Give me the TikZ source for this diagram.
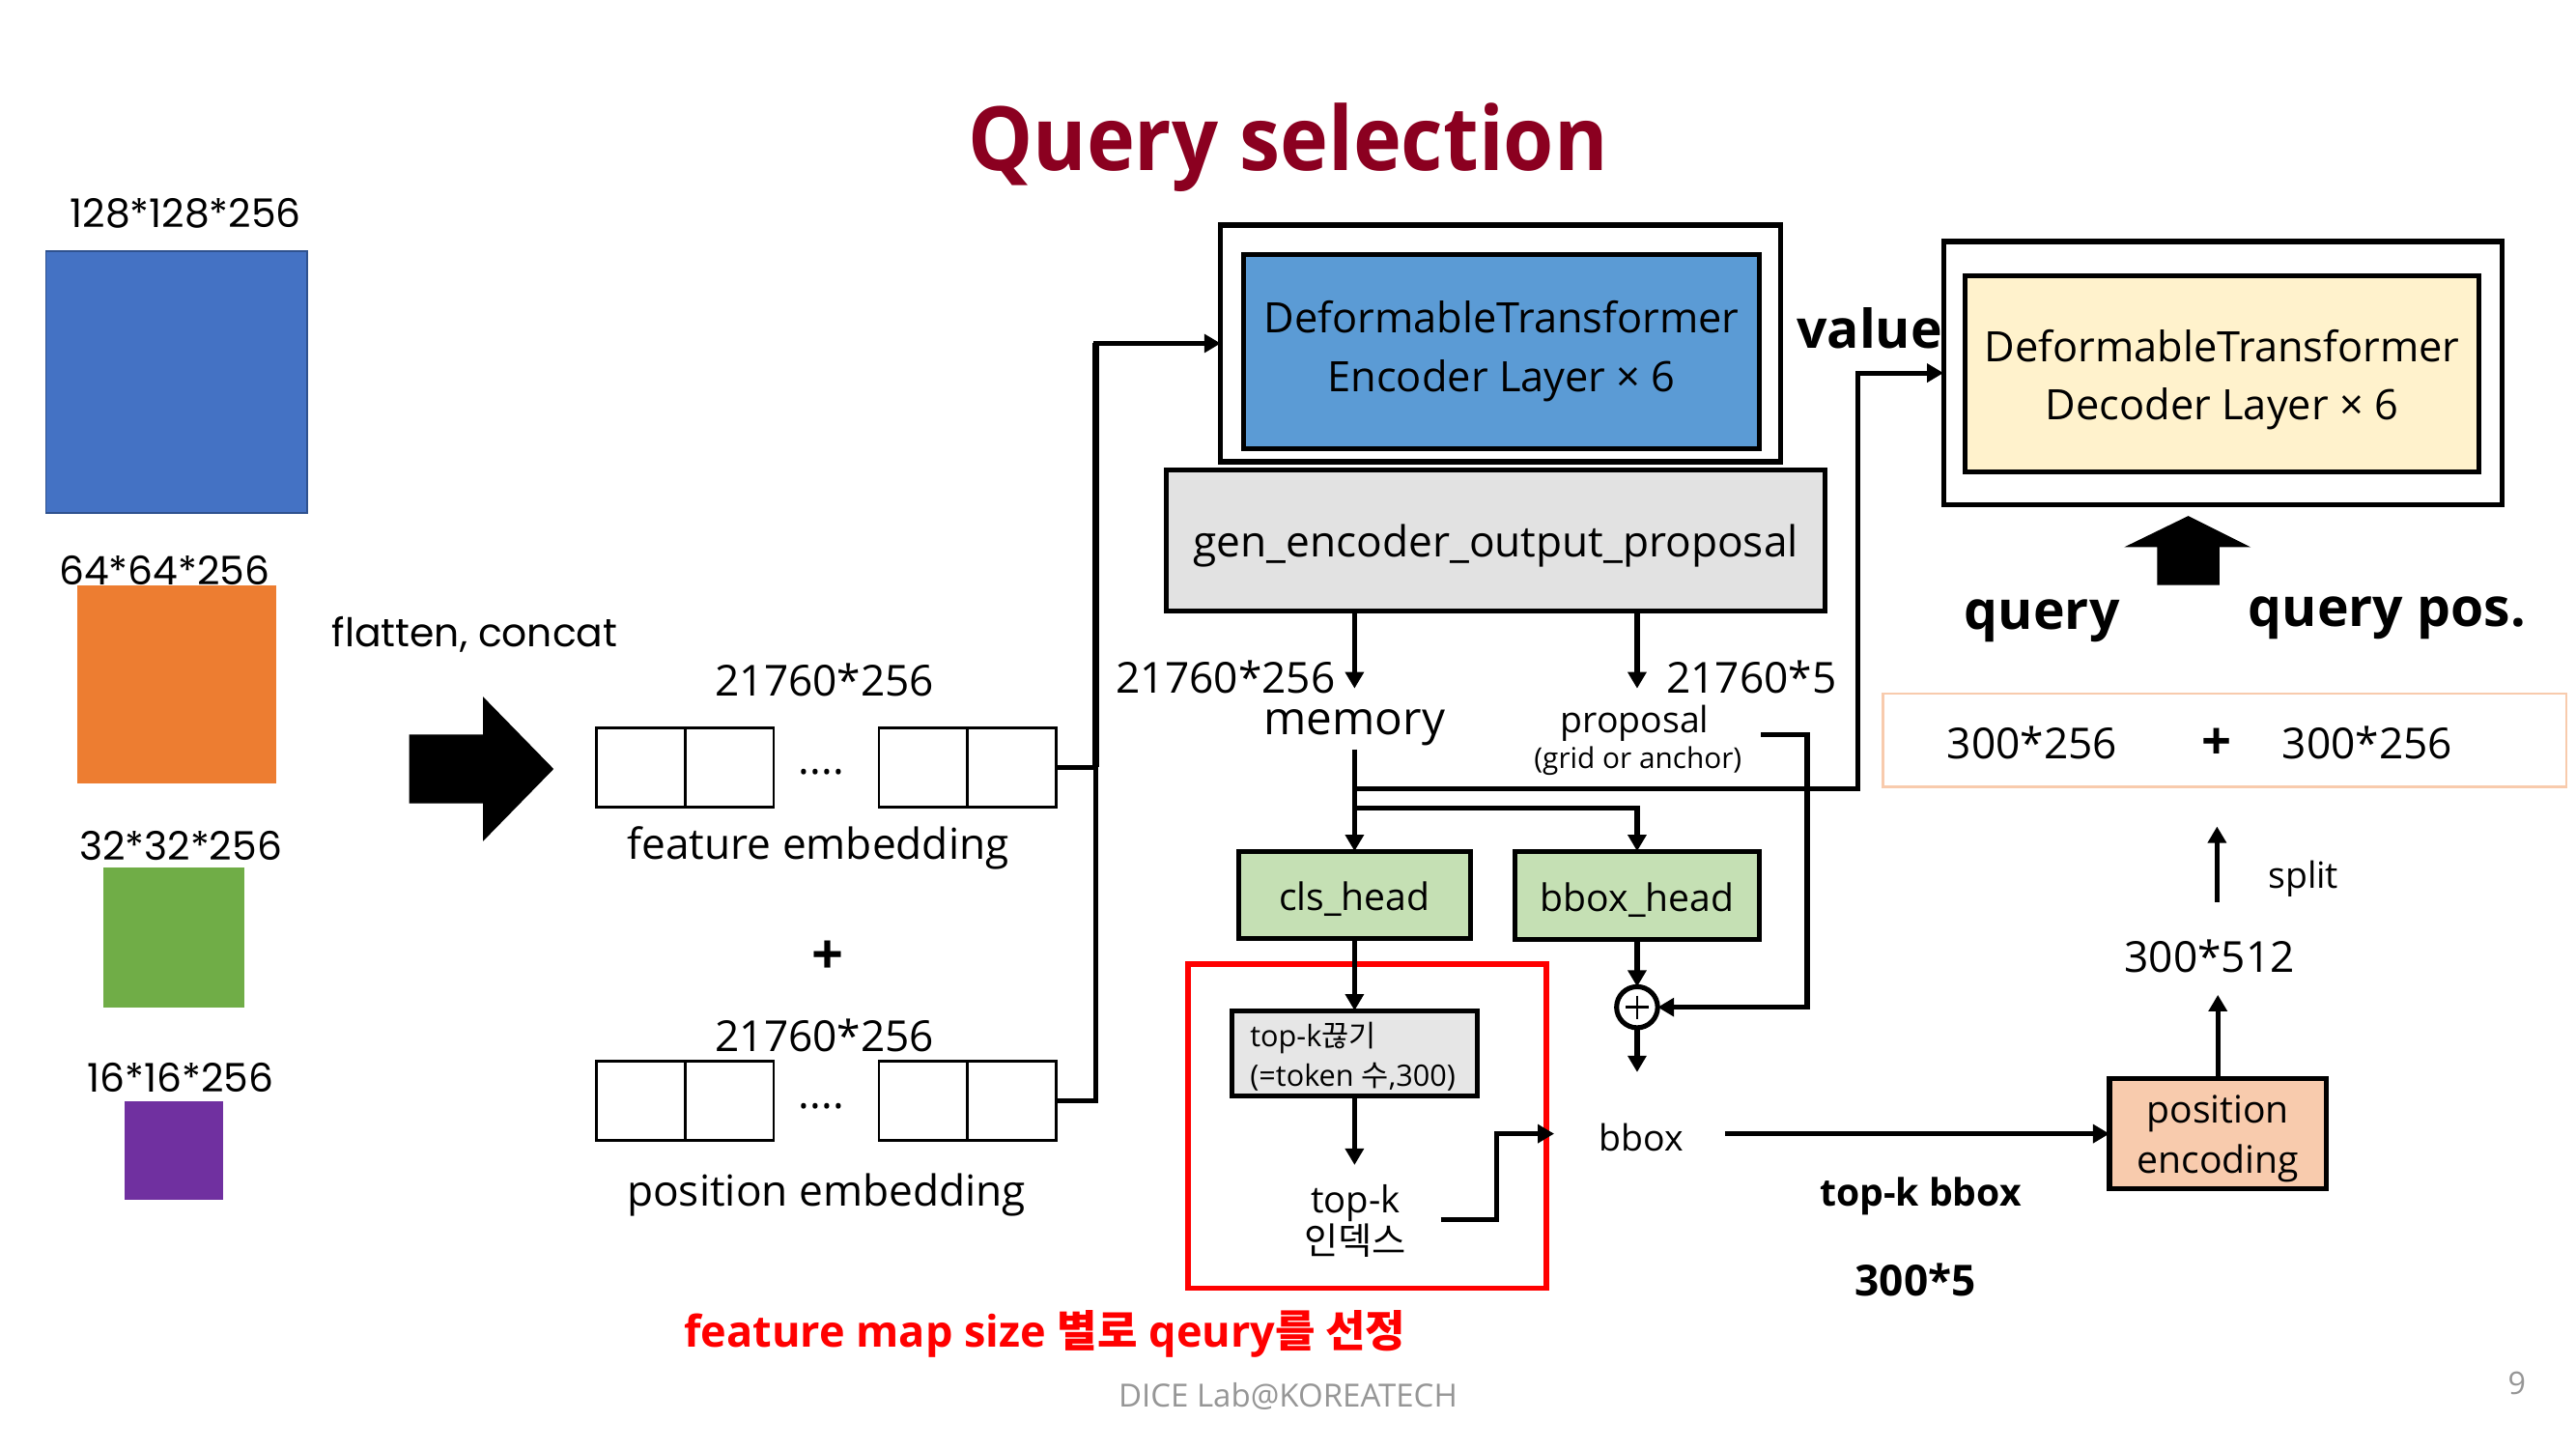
\documentclass[tikz,border=0pt]{standalone}
\usepackage{fontspec}
\setmainfont{Open Sans}
\newfontfamily\kr{Noto Sans CJK KR}
\newfontfamily\geo{Poppins}
\usetikzlibrary{arrows.meta,calc}
\newcommand\fsz[2]{\fontsize{#1pt}{#2pt}\selectfont}
\definecolor{titlered}{RGB}{139,0,32}
\definecolor{blueA}{RGB}{68,114,196}
\definecolor{blueEdge}{RGB}{47,82,143}
\definecolor{orangeA}{RGB}{237,125,49}
\definecolor{greenA}{RGB}{112,173,71}
\definecolor{purpleA}{RGB}{112,48,160}
\definecolor{encblue}{RGB}{91,155,213}
\definecolor{decyellow}{RGB}{255,242,204}
\definecolor{gengray}{RGB}{226,226,226}
\definecolor{topkgray}{RGB}{230,230,230}
\definecolor{headgreen}{RGB}{197,224,180}
\definecolor{peach}{RGB}{248,203,173}
\definecolor{footgray}{RGB}{150,150,150}
\begin{document}
\begin{tikzpicture}[x=1pt,y=-1pt,
  every node/.style={inner sep=0pt,outer sep=0pt},
  blk/.style={draw=black,line width=3pt},
  cell/.style={draw=black,line width=1.6pt,minimum width=54pt,minimum height=48pt},
  conn/.style={line width=3pt},
  arr/.style={line width=3pt,-{Triangle[length=10pt,width=11pt]}},
  lbl/.style={font=\fsz{26}{30}},
  mid/.style={font=\fsz{22}{26}},
  geolbl/.style={font=\geo\fsz{24}{28}},
  boldlbl/.style={font=\bfseries\fsz{32.5}{38}}
]
\useasboundingbox (0,0) rectangle (1568,882);
\fill[white] (0,0) rectangle (1568,882);

% title
\node[text=titlered,font=\bfseries\fsz{54}{60}] (title) at (784,90) {\scalebox{0.92}[1]{Query selection}};

% feature maps
\node[geolbl] (l1) at (113,130) {128*128*256};
\node[fill=blueA,draw=blueEdge,line width=1pt,minimum width=159pt,minimum height=159pt] (f1) at (107.5,232.5) {};
\node[geolbl] (l2) at (100,347) {64*64*256};
\node[fill=orangeA,minimum width=121pt,minimum height=121pt] (f2) at (107.5,416.5) {};
\node[geolbl] (l3) at (110,515) {32*32*256};
\node[fill=greenA,minimum width=86pt,minimum height=85pt] (f3) at (106,570.5) {};
\node[geolbl] (l4) at (110,656) {16*16*256};
\node[fill=purpleA,minimum width=60pt,minimum height=60pt] (f4) at (106,700) {};

\node[geolbl] (flat) at (289,386) {flatten, concat};
\fill (249,447) -- (294,447) -- (294,424) -- (337,468) -- (294,512) -- (294,489) -- (249,489) -- cycle;

% embeddings
\node[lbl] (d1) at (502,414) {21760*256};
\node[cell] (fe1) at (390,467) {};
\node[cell] (fe2) at (444,467) {};
\node[lbl] (dots1) at (500,470) {....};
\node[cell] (fe3) at (562,467) {};
\node[cell] (fe4) at (616,467) {};
\node[lbl] (fel) at (498,516) {feature embedding};
\node[font=\bfseries\fsz{34}{40}] (plusA) at (504,583) {+};
\node[lbl] (d2) at (502,630) {21760*256};
\node[cell] (pe1) at (390,670) {};
\node[cell] (pe2) at (444,670) {};
\node[lbl] (dots2) at (500,673) {....};
\node[cell] (pe3) at (562,670) {};
\node[cell] (pe4) at (616,670) {};
\node[lbl] (pel) at (503,727) {position embedding};

% encoder
\node[blk,minimum width=341pt,minimum height=144pt] (encO) at (913.5,209) {};
\node[blk,fill=encblue,minimum width=314pt,minimum height=118pt,align=center,font=\fsz{25.5}{36}] (encI) at (914,214) {DeformableTransformer\\Encoder Layer × 6};
\coordinate (jx) at (667,209);
\draw[conn] (pe4.east) -| (jx);
\draw[line width=3.6pt] (fe4.east -| jx) -- (jx);
\draw[arr] (fe4.east) -| (jx) -- (encO.west);

% gen proposal
\node[blk,fill=gengray,minimum width=401pt,minimum height=86pt] (gen) at (910.5,329) {};
\node[font=\fsz{26}{30}] (gent) at (910.5,332) {gen\_encoder\_output\_proposal};

\node[lbl] (mdim) at (746,412) {21760*256};
\node[lbl] (pdim) at (1066,412) {21760*5};
\node[font=\fsz{28}{32}] (mem) at (824.5,443) {memory};
\node[mid] (prop) at (995,440) {proposal};
\node[font=\fsz{17.5}{20}] (grid) at (997,463) {(grid or anchor)};

% decoder
\node[blk,minimum width=340pt,minimum height=160pt] (decO) at (1353,227) {};
\node[blk,fill=decyellow,minimum width=313pt,minimum height=119pt,align=center,font=\fsz{25.5}{35}] (decI) at (1352.5,227.5) {};
\node[align=center,font=\fsz{25.5}{35}] (decT) at (1352.5,231) {DeformableTransformer\\Decoder Layer × 6};
\node[boldlbl] (value) at (1138,200) {value};

% heads
\node[blk,fill=headgreen,minimum width=141pt,minimum height=53pt] (cls) at (824.5,544.5) {};
\node[font=\fsz{23}{28}] (clst) at (824.5,547) {cls\_head};
\node[blk,fill=headgreen,minimum width=149pt,minimum height=54pt] (bbh) at (996.5,545) {};
\node[font=\fsz{23}{28}] (bbht) at (996.5,547.5) {bbox\_head};

\draw[arr] (gen.south -| mem) -- ++(0,47);
\draw[arr] (gen.south -| bbh) -- ++(0,47);

\coordinate (m0) at (824.5,456);
\coordinate (b1) at (824.5,480);
\coordinate (b2) at (824.5,492);
\coordinate (vx) at (1131,227);
\draw[arr] (m0) -- (cls.north);
\draw[arr] (b1) -| (vx) -- (decO.west);
\draw[arr] (b2) -| (bbh.north);

% plus circle
\node[circle,draw=black,line width=3pt,minimum size=25pt,fill=white] (plus) at (996.5,613) {};
\draw[line width=1.5pt] ($(plus.center)+(-7,0)$) -- ($(plus.center)+(7,0)$);
\draw[line width=1.5pt] ($(plus.center)+(0,-7)$) -- ($(plus.center)+(0,7)$);
\draw[arr] (bbh.south) -- (plus.north);
\coordinate (p0) at (1072,447);
\coordinate (pr) at (1100,613);
\draw[arr] (p0) -| (pr) -- (plus.east);
\draw[arr] (plus.south) -- ++(0,27);
\node[mid] (bbox) at (999,692) {bbox};

% red selection box
\node[draw=red,line width=3.5pt,minimum width=218pt,minimum height=197pt] (redbox) at (832,685.5) {};
\node[blk,fill=topkgray,minimum width=149pt,minimum height=52pt] (topk) at (824.5,641) {};
\node[font=\fsz{18}{24},align=left,anchor=west] (topkt) at (761,643) {top-k{\kr 끊기}\\(=token {\kr 수},300)};
\draw[arr] (cls.south) -- (topk.north);
\draw[arr] (topk.south) -- ++(0,42);
\node[align=center,font=\fsz{22.5}{25}] (tki) at (825,743) {top-k\\{\kr 인덱스}};
\coordinate (t1) at (877,742);
\coordinate (t2) at (911,690);
\coordinate (t3) at (946,690);
\draw[arr] (t1) -| (t2) -- (t3);

% position encoding
\node[blk,fill=peach,minimum width=132pt,minimum height=67pt] (pe) at (1350,690) {};
\node[align=center,font=\fsz{23}{31}] (pet) at (1350,693) {position\\encoding};
\coordinate (bb1) at (1050,690);
\draw[arr] (bb1) -- (pe.west);
\node[font=\bfseries\fsz{23}{28}] (tkb) at (1169,728) {top-k bbox};
\node[font=\bfseries\fsz{26}{30}] (t5) at (1166,779) {300*5};
\draw[arr] (pe.north) -- ++(0,-51);
\node[font=\fsz{26}{30}] (d512) at (1345,582) {300*512};
\coordinate (s0) at (1349.5,549);
\draw[arr] (s0) -- ++(0,-46);
\node[font=\fsz{22}{26}] (split) at (1402,535) {split};

% query box
\node[draw=peach,line width=1.5pt,minimum width=416pt,minimum height=57pt] (qbox) at (1354,450.5) {};
\node[font=\fsz{26}{30}] (q1) at (1237,452) {300*256};
\node[font=\bfseries\fsz{32}{36}] (plusB) at (1349,453) {+};
\node[font=\fsz{26}{30}] (q2) at (1441,452) {300*256};
\node[boldlbl] (query) at (1243,378) {query};
\node[boldlbl] (qpos) at (1453,376) {query pos.};
\fill (1313,356) -- (1313,333) -- (1293,333) -- (1332,314) -- (1370,333) -- (1351,333) -- (1351,356) -- cycle;

% footer
\node[text=red,font=\bfseries\fsz{26.5}{30}] (foot) at (636,812) {feature map size {\kr 별로} qeury{\kr 를 선정}};
\node[text=footgray,font=\fsz{19.4}{22}] (dice) at (784,850) {DICE Lab@KOREATECH};
\node[text=footgray,font=\fsz{19}{22}] (pg) at (1532,842) {9};
\end{tikzpicture}
\end{document}
